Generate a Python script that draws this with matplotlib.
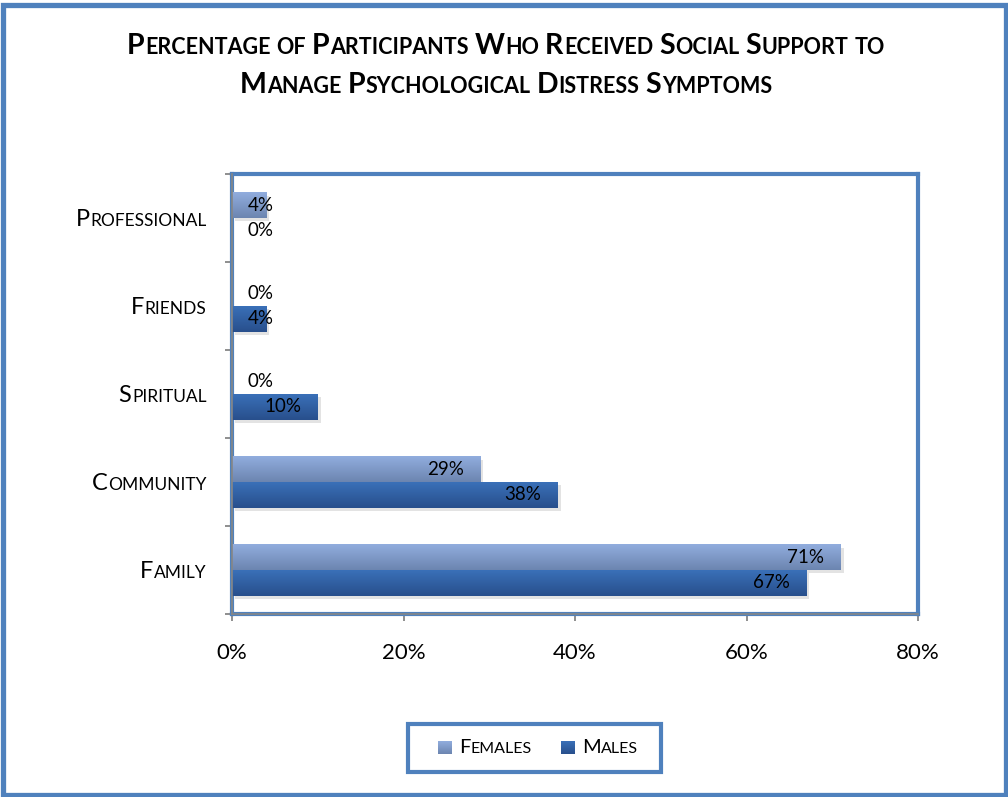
import numpy as np
import matplotlib
matplotlib.use('Agg')
import matplotlib.pyplot as plt
from matplotlib.patches import Rectangle
from matplotlib import patheffects as pe
from matplotlib.font_manager import FontProperties
from matplotlib.colors import to_rgb

# Data
categories = ['Family', 'Community', 'Spiritual', 'Friends', 'Professional']
females = [71, 29, 0, 0, 4]
males = [67, 38, 10, 4, 0]
series_names = ['Females', 'Males']
xticks = [0, 20, 40, 60, 80]
title_lines = ['Percentage of Participants Who Received Social Support to',
               'Manage Psychological Distress Symptoms']

W, H = 1008, 797
BLUE = '#4F81BD'
GRAY = '#868686'
FONT = 'Lato'
FEM_COLS = ('#6C85B0', '#91ADDE')   # bottom, top
MAL_COLS = ('#284F8C', '#3A70B8')

plt.rcParams['font.family'] = [FONT, 'DejaVu Sans']

fig = plt.figure(figsize=(W / 100, H / 100), dpi=100)
renderer = fig.canvas.get_renderer()

def text_width(s, size, weight):
   fp = FontProperties(family=FONT, size=size, weight=weight)
   w, h, d = renderer.get_text_width_height_descent(s, fp, ismath=False)
   return w

def smallcaps(x, y, text, big, small, ha='left', weight='normal', color='black'):
   """Draw text in small caps, x/y in pixels (baseline, from bottom-left)."""
   segs = []
   for ch in text:
      if ch == ' ':
         segs.append([' ', small])
         continue
      size = big if (ch.isupper() or ch.isdigit()) else small
      if segs and segs[-1][1] == size and segs[-1][0] != ' ':
         segs[-1][0] += ch.upper()
      else:
         segs.append([ch.upper(), size])
   widths = []
   for s, size in segs:
      if s == ' ':
         widths.append(text_width('a a', size, weight) - text_width('aa', size, weight))
      else:
         widths.append(text_width(s, size, weight) + 0.6)
   total = sum(widths)
   if ha == 'center':
      x = x - total / 2
   elif ha == 'right':
      x = x - total
   for (s, size), w in zip(segs, widths):
      if s != ' ':
         fig.text(x / W, y / H, s, fontsize=size, fontweight=weight, color=color,
                  va='baseline', ha='left', family=FONT)
      x += w

def gradient_fill(axis, patch, cols):
   x0, y0 = patch.get_x(), patch.get_y()
   w, h = patch.get_width(), patch.get_height()
   if w <= 0:
      return
   c0, c1 = np.array(to_rgb(cols[0])), np.array(to_rgb(cols[1]))
   t = np.linspace(0, 1, 64)[:, None]
   grad = (c0 + (c1 - c0) * t)[:, None, :]
   im = axis.imshow(grad, extent=[x0, x0 + w, y0, y0 + h], origin='lower',
                    aspect='auto', zorder=3, interpolation='bilinear')
   im.set_clip_path(patch)

# Outer border
fig.patches.append(Rectangle((2.5 / W, 2.5 / H), 1 - 5 / W, 1 - 7.5 / H, transform=fig.transFigure,
                             fill=False, edgecolor=BLUE, linewidth=3.8))

# Axes
ax = fig.add_axes([232 / W, (H - 614) / H, (918 - 232) / W, (614 - 174) / H])
y = np.arange(len(categories))
bh = 0.295
shadow = [pe.SimplePatchShadow(offset=(2, -2.5), shadow_rgbFace='#C8C8C8', alpha=0.5), pe.Normal()]
fbars = ax.barh(y + bh / 2, females, height=bh, color=FEM_COLS[1], zorder=2, path_effects=shadow)
mbars = ax.barh(y - bh / 2, males, height=bh, color=MAL_COLS[1], zorder=2, path_effects=shadow)
for p in fbars:
   gradient_fill(ax, p, FEM_COLS)
for p in mbars:
   gradient_fill(ax, p, MAL_COLS)

# Value labels
for bars, vals in ((fbars, females), (mbars, males)):
   for p, v in zip(bars, vals):
      yc = p.get_y() + p.get_height() / 2
      if v < 5:
         ax.annotate(f'{v}%', (0, yc), xytext=(11, 0), textcoords='offset points',
                     ha='left', va='center', fontsize=13.5, zorder=5)
      else:
         ax.annotate(f'{v}%', (v, yc), xytext=(-12, 0), textcoords='offset points',
                     ha='right', va='center', fontsize=13.5, zorder=5)

ax.set_xlim(0, 80)
ax.set_ylim(-0.5, len(categories) - 0.5)
ax.set_xticks(xticks)
ax.set_xticklabels([f'{t}%' for t in xticks], fontsize=16)
ax.set_yticks(np.arange(-0.5, len(categories), 1.0))
ax.set_yticklabels([])
ax.tick_params(axis='both', color=GRAY, length=5, width=1.3, direction='out')
ax.tick_params(axis='x', pad=16)
for s in ax.spines.values():
   s.set_color(BLUE)
   s.set_linewidth(3)
ax.plot([0, 0], [0, 1], transform=ax.transAxes, color=GRAY, lw=1.2, clip_on=False, zorder=6)
ax.plot([0, 1], [0, 0], transform=ax.transAxes, color=GRAY, lw=1.2, clip_on=False, zorder=6)

# Category labels in small caps
big_y, small_y = 17, 12.5
cap_px = big_y * 100 / 72 * 0.7165
for i, cat in enumerate(categories):
   yd = ax.transData.transform((0, i))[1]
   smallcaps(207, yd - cap_px / 2, cat, big_y, small_y, ha='right')

# Title
smallcaps(506, H - 54, title_lines[0], 20.5, 15.5, ha='center', weight='bold')
smallcaps(506, H - 93, title_lines[1], 20.5, 15.5, ha='center', weight='bold')

# Legend
fig.patches.append(Rectangle((407.5 / W, (H - 771.5) / H), 253 / W, 48 / H, transform=fig.transFigure,
                             fill=False, edgecolor=BLUE, linewidth=3))
lax = fig.add_axes([0, 0, 1, 1], zorder=-1)
lax.set_xlim(0, W)
lax.set_ylim(0, H)
lax.axis('off')
for name, cols, x0 in ((series_names[0], FEM_COLS, 438), (series_names[1], MAL_COLS, 561)):
   sq = Rectangle((x0, H - 754), 14, 13)
   lax.add_patch(sq)
   sq.set_visible(False)
   gradient_fill(lax, sq, cols)
   smallcaps(x0 + 21, H - 753, name, 14.5, 11.5)
lax.set_xlim(0, W)
lax.set_ylim(0, H)

fig.savefig('out.png', dpi=100)
